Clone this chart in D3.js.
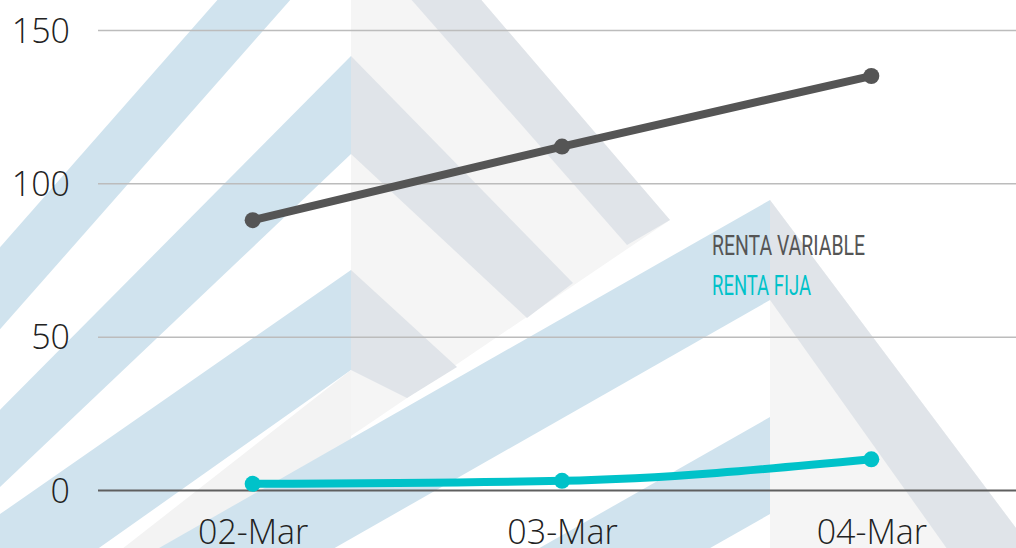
<!DOCTYPE html>
<html>
<head>
<meta charset="utf-8">
<script src="https://cdn.jsdelivr.net/npm/d3@7/dist/d3.min.js"></script>
<style>
  html, body { margin: 0; padding: 0; background: #fff; }
  .chart { width: 1016px; height: 548px; overflow: hidden; }
</style>
</head>
<body>
<div class="chart"></div>
<script>
// ----------------------------------
// DATA
// ----------------------------------
const dates = ['02-Mar', '03-Mar', '04-Mar'];
const rentaVariable = [88, 112, 135];
const rentaFija = [2, 3, 10];
const seriesNames = ['RENTA VARIABLE', 'RENTA FIJA'];
const seriesColors = ['#555555', '#00c2c9'];
const yTicks = [0, 50, 100, 150];

// Background logo watermark (pure decoration, not data)
const watermark = [
  // back mountain, shaded right half
  { fill: '#f5f5f5', pts: [[351, -152], [670, 220], [351, 436]] },
  // back mountain, left arms
  { fill: '#d0e3ee', pts: [[351, -152], [-20, 270], [-20, 352], [351, -69]] },
  { fill: '#d0e3ee', pts: [[351, 56], [-20, 430], [-20, 506], [351, 154]] },
  { fill: '#d0e3ee', pts: [[351, 270], [-20, 528], [-20, 632], [351, 370]] },
  { fill: '#f3f3f3', pts: [[351, 370], [-20, 660], [-20, 730], [351, 440]] },
  // back mountain, right arms
  { fill: '#e0e4e9', pts: [[351, -152], [670, 220], [627, 245], [351, -69]] },
  { fill: '#e0e4e9', pts: [[351, 56], [573, 283], [527, 318], [351, 154]] },
  { fill: '#e0e4e9', pts: [[351, 270], [457, 367], [407, 398], [351, 370]] },
  // front mountain, shaded right half
  { fill: '#f5f5f5', pts: [[770, 200], [1040, 560], [770, 560]] },
  // front mountain, left arms
  { fill: '#d0e3ee', pts: [[770, 200], [-20, 650], [-20, 750], [770, 300]] },
  { fill: '#d0e3ee', pts: [[770, 417], [-20, 866], [-20, 963], [770, 514]] },
  // front mountain, right arm
  { fill: '#e0e4e9', pts: [[770, 200], [1040, 560], [955, 560], [770, 300]] }
];

// ----------------------------------
// GET TO KNOW THE CONTAINER
// ----------------------------------
const container = d3.select('.chart'),
      width = 1016,
      height = 548,
      margin = { top: 30, right: -10, bottom: 58, left: 98 },
      innerHeight = height - margin.top - margin.bottom;

const svg = container.append('svg')
    .attr('width', width)
    .attr('height', height);

svg.append('g')
    .classed('watermark', true)
  .selectAll('polygon')
    .data(watermark)
    .enter()
    .append('polygon')
    .attr('points', d => d.pts.map(p => p.join(',')).join(' '))
    .style('fill', d => d.fill);

// ----------------------------------
// MAKE SCALES
// ----------------------------------
const xScale = d3.scalePoint()
    .domain(dates)
    .range([margin.left, width - margin.right])
    .padding(0.5);

const yScale = d3.scaleLinear()
    .domain([0, 150])
    .range([margin.top + innerHeight, margin.top]);

// ----------------------------------
// AXES
// ----------------------------------
const yAxis = d3.axisLeft(yScale)
    .tickValues(yTicks)
    .tickSize(-(width - margin.left))
    .tickPadding(28);

const yG = svg.append('g')
    .attr('class', 'y axis')
    .attr('transform', `translate(${margin.left},0)`)
    .call(yAxis);

yG.select('.domain').remove();
yG.selectAll('.tick line')
    .style('stroke', d => d === 0 ? '#5f5f5f' : '#bcbcbc')
    .style('stroke-width', d => d === 0 ? 2 : 1.5);
yG.selectAll('.tick text')
    .style('font-family', '"Open Sans", sans-serif')
    .style('font-weight', 300)
    .style('font-size', '34px')
    .style('fill', '#222')
    .attr('dy', '0.36em');

const xAxis = d3.axisBottom(xScale).tickSize(0);

const xG = svg.append('g')
    .attr('class', 'x axis')
    .attr('transform', `translate(0,${yScale(0)})`)
    .call(xAxis);

xG.select('.domain').remove();
xG.selectAll('.tick text')
    .attr('y', 54)
    .attr('dy', 0)
    .style('font-family', '"Open Sans", sans-serif')
    .style('font-weight', 300)
    .style('font-size', '34px')
    .style('fill', '#222');

// ----------------------------------
// LINES AND DOTS
// ----------------------------------
const series = [rentaVariable, rentaFija].map((vals, i) => ({
  name: seriesNames[i],
  color: seriesColors[i],
  values: vals.map((v, j) => ({ date: dates[j], value: v }))
}));

const line = d3.line()
    .x(d => xScale(d.date))
    .y(d => yScale(d.value))
    .curve(d3.curveMonotoneX);

const lines = svg.append('g').classed('lines', true)
  .selectAll('g')
    .data(series)
    .enter()
    .append('g');

lines.append('path')
    .attr('d', d => line(d.values))
    .style('fill', 'none')
    .style('stroke', d => d.color)
    .style('stroke-width', 8)
    .style('stroke-linejoin', 'round');

lines.selectAll('circle')
    .data(d => d.values.map(v => ({ ...v, color: d.color })))
    .enter()
    .append('circle')
    .attr('cx', d => xScale(d.date))
    .attr('cy', d => yScale(d.value))
    .attr('r', 8)
    .style('fill', d => d.color);

// ----------------------------------
// LEGEND
// ----------------------------------
const legendWidths = [153, 99];

svg.append('g')
    .classed('legend', true)
  .selectAll('text')
    .data(series)
    .enter()
    .append('text')
    .attr('x', 712)
    .attr('y', (d, i) => 255 + i * 40)
    .attr('textLength', (d, i) => legendWidths[i])
    .attr('lengthAdjust', 'spacingAndGlyphs')
    .style('font-family', '"Liberation Sans Narrow", Roboto, sans-serif')
    .style('font-size', '27px')
    .style('fill', d => d.color)
    .text(d => d.name);
</script>
</body>
</html>
